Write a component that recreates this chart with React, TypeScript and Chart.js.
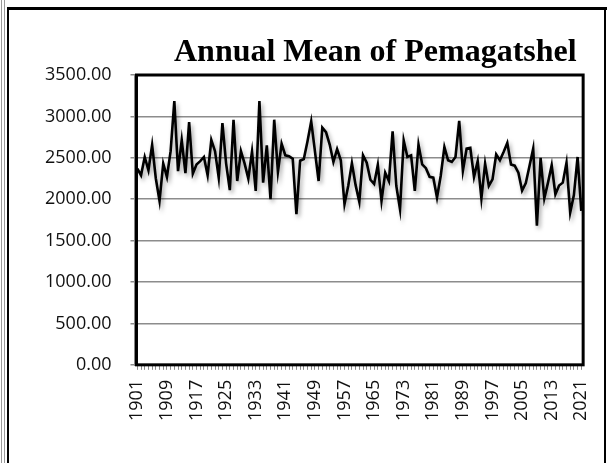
import React, { useEffect, useRef } from 'react';
import { Chart, registerables } from 'chart.js';

Chart.register(...registerables);

const startYear = 1901;
const endYear = 2021;
const years: string[] = [];
for (let y = startYear; y <= endYear; y++) years.push(String(y));

const annualMean: number[] = [
  2370, 2290, 2510, 2350, 2655, 2250, 1980, 2430, 2270, 2580,
  3185, 2340, 2715, 2315, 2930, 2310, 2420, 2460, 2510, 2290,
  2715, 2580, 2260, 2920, 2430, 2110, 2960, 2220, 2580, 2430,
  2250, 2575, 2100, 3185, 2200, 2650, 2000, 2960, 2330, 2670,
  2530, 2520, 2490, 1820, 2465, 2485, 2700, 2940, 2580, 2220,
  2865, 2810, 2660, 2450, 2605, 2470, 1940, 2160, 2435, 2170,
  1970, 2530, 2440, 2235, 2185, 2415, 1980, 2320, 2220, 2820,
  2160, 1880, 2710, 2510, 2530, 2100, 2660, 2420, 2375, 2270,
  2260, 2020, 2280, 2630, 2470, 2450, 2510, 2945, 2345, 2610,
  2620, 2270, 2460, 2010, 2430, 2160, 2240, 2540, 2470, 2570,
  2680, 2420, 2405, 2320, 2105, 2195, 2400, 2610, 1680, 2500,
  2010, 2200, 2410, 2060, 2165, 2200, 2440, 1840, 2050, 2510,
  1860,
];

const xTickLabels = [
  '1901', '1909', '1917', '1925', '1933', '1941', '1949', '1957',
  '1965', '1973', '1981', '1989', '1997', '2005', '2013', '2021',
];
const yMin = 0;
const yMax = 3500;
const yStep = 500;
const chartTitle = 'Annual Mean of Pemagatshel';

const tickFont = { family: "'Open Sans', 'Noto Sans', sans-serif", size: 18 };

export default function App() {
  const ref = useRef<HTMLCanvasElement>(null);

  useEffect(() => {
    document.body.style.margin = '0';
    const canvas = ref.current;
    if (!canvas) return;

    const shadowPlugin = {
      id: 'lineShadow',
      beforeDatasetsDraw(chart: any) {
        const ctx = chart.ctx;
        ctx.save();
        ctx.shadowColor = 'rgba(0,0,0,0.35)';
        ctx.shadowBlur = 4;
        ctx.shadowOffsetX = 2;
        ctx.shadowOffsetY = 3;
      },
      afterDatasetsDraw(chart: any) {
        chart.ctx.restore();
      },
    };

    const framePlugin = {
      id: 'plotFrame',
      afterDraw(chart: any) {
        const { ctx, chartArea } = chart;
        const { left, top, right, bottom } = chartArea;
        ctx.save();
        ctx.strokeStyle = '#000';
        ctx.lineWidth = 3;
        ctx.strokeRect(left + 1, top, right - left - 1, bottom - top);
        ctx.restore();
      },
    };

    const titlePlugin = {
      id: 'customTitle',
      afterDraw(chart: any) {
        const { ctx, chartArea } = chart;
        ctx.save();
        ctx.font = "bold 32px 'Liberation Serif', 'Times New Roman', serif";
        ctx.fillStyle = '#000';
        ctx.textAlign = 'center';
        ctx.textBaseline = 'alphabetic';
        ctx.fillText(chartTitle, (chartArea.left + chartArea.right) / 2 + 16, chartArea.top - 14);
        ctx.restore();
      },
    };

    const chart = new Chart(canvas, {
      type: 'line',
      data: {
        labels: years,
        datasets: [
          {
            data: annualMean,
            borderColor: '#000',
            borderWidth: 2.6,
            pointRadius: 0,
            tension: 0,
            fill: false,
          },
        ],
      },
      options: {
        responsive: false,
        animation: false,
        layout: { padding: { left: 26, right: 26, top: 75, bottom: 32 } },
        plugins: {
          legend: { display: false },
          tooltip: { enabled: false },
          title: { display: false },
        },
        scales: {
          x: {
            offset: true,
            grid: {
              display: true,
              drawOnChartArea: false,
              drawTicks: true,
              tickLength: 5,
              color: '#8a8a8a',
              lineWidth: 1,
            },
            border: { display: true, color: '#8a8a8a', width: 2 },
            ticks: {
              autoSkip: false,
              maxRotation: 90,
              minRotation: 90,
              padding: 10,
              color: '#111',
              font: tickFont,
              callback: (_v: any, i: number) =>
                xTickLabels.includes(years[i]) ? years[i] : '',
            },
          },
          y: {
            min: yMin,
            max: yMax,
            ticks: {
              stepSize: yStep,
              padding: 19,
              color: '#111',
              font: tickFont,
              callback: (v: any) => Number(v).toFixed(2),
            },
            grid: {
              color: '#8c8c8c',
              lineWidth: 1.5,
              drawTicks: true,
              tickLength: 5,
            },
            border: { display: true, color: '#8a8a8a', width: 2 },
          },
        },
      },
      plugins: [shadowPlugin, framePlugin, titlePlugin],
    });

    return () => chart.destroy();
  }, []);

  return (
    <div style={{ position: 'relative', width: 613, height: 463, background: '#fff', overflow: 'hidden' }}>
      <canvas ref={ref} width={613} height={463} style={{ position: 'absolute', left: 0, top: 0, display: 'block' }} />
      <div style={{ position: 'absolute', left: 1, top: 0, width: 1, height: 463, background: '#9a9a9a' }} />
      <div style={{ position: 'absolute', left: 4, top: 0, width: 1, height: 463, background: '#9a9a9a' }} />
      <div style={{ position: 'absolute', left: 7, top: 7, width: 2, height: 456, background: '#000' }} />
      <div style={{ position: 'absolute', left: 7, top: 7, width: 600, height: 3, background: '#000' }} />
      <div style={{ position: 'absolute', left: 604, top: 7, width: 2, height: 456, background: '#000' }} />
    </div>
  );
}
